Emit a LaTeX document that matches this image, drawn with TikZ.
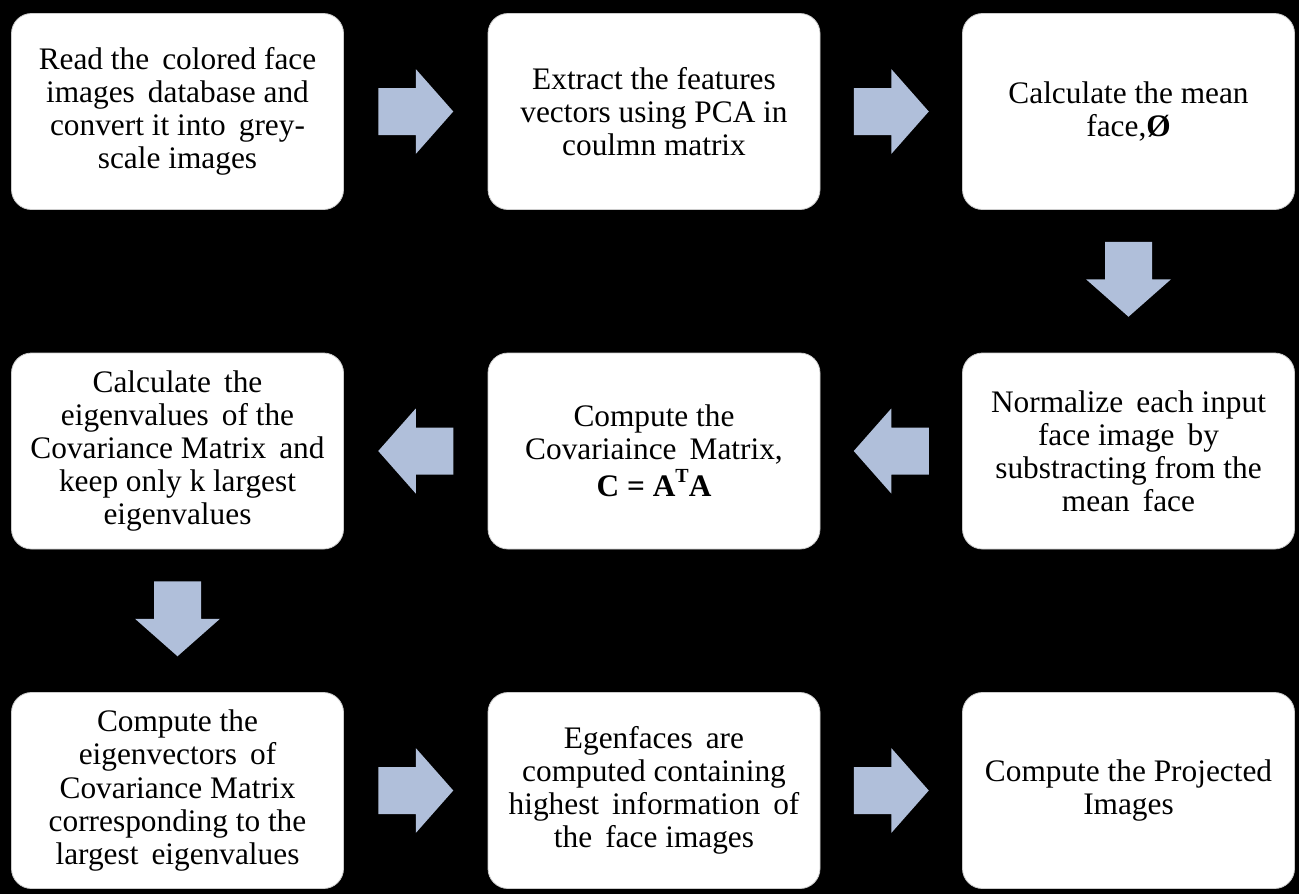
\documentclass[tikz,border=0pt]{standalone}
\usepackage{fontspec}
\setmainfont{Liberation Serif}
\usetikzlibrary{calc}
\definecolor{arrowblue}{HTML}{B0BFDA}
\tikzset{
  x=0.75pt, y=-0.75pt,
  stepbox/.style={draw=white!80!black, line width=0.6pt, fill=white, rounded corners=15pt,
    minimum width=249pt, minimum height=147pt, inner sep=0pt, align=center,
    font=\fontsize{23.5}{24.8}\selectfont, text=black},
  blockarr/.pic={\fill[arrowblue] (-37.5,-23.5) -- (0,-23.5) -- (0,-42.5) -- (37.5,0) -- (0,42.5) -- (0,23.5) -- (-37.5,23.5) -- cycle;}
}
\begin{document}
\begin{tikzpicture}
\fill[black] (0,0) rectangle (1299,894);
\useasboundingbox (0,0) rectangle (1299,894);
% row 1
\node[stepbox] (b1) at (177.5,111.5) {Read the\, colored face\\images\, database and\\convert it into\, grey-\\scale images};
\node[stepbox] (b2) at (654,111.5) {Extract the features\\vectors using PCA in\\coulmn matrix};
\node[stepbox] (b3) at (1128.5,111.5) {Calculate the mean\\face,\textbf{Ø}};
% row 2
\node[stepbox] (b4) at (177.5,451) {Calculate\, the\\eigenvalues\, of the\\Covariance Matrix\, and\\keep only k largest\\eigenvalues};
\node[stepbox] (b5) at (654,451) {Compute the\\Covariaince\, Matrix,\\[3pt]\textbf{C = A\raisebox{0.45em}{\fontsize{15}{15}\selectfont T}A}};
\node[stepbox] (b6) at (1128.5,451) {Normalize\, each input\\face image\, by\\substracting from the\\mean\, face};
% row 3
\node[stepbox] (b7) at (177.5,790.5) {Compute the\\eigenvectors\, of\\Covariance Matrix\\corresponding to the\\largest\, eigenvalues};
\node[stepbox] (b8) at (654,790.5) {Egenfaces\, are\\computed containing\\highest\, information\, of\\the\, face images};
\node[stepbox] (b9) at (1128.5,790.5) {Compute the Projected\\Images};
% block arrows
\path ($(b1.east)!0.5!(b2.west)$) pic {blockarr};
\path ($(b2.east)!0.5!(b3.west)$) pic {blockarr};
\path ($(b3.south)!0.5!(b6.north)+(0,-2)$) pic[rotate=-90] {blockarr};
\path ($(b6.west)!0.5!(b5.east)$) pic[rotate=180] {blockarr};
\path ($(b5.west)!0.5!(b4.east)$) pic[rotate=180] {blockarr};
\path ($(b4.south)!0.5!(b7.north)+(0,-2)$) pic[rotate=-90] {blockarr};
\path ($(b7.east)!0.5!(b8.west)$) pic {blockarr};
\path ($(b8.east)!0.5!(b9.west)$) pic {blockarr};
\end{tikzpicture}
\end{document}
